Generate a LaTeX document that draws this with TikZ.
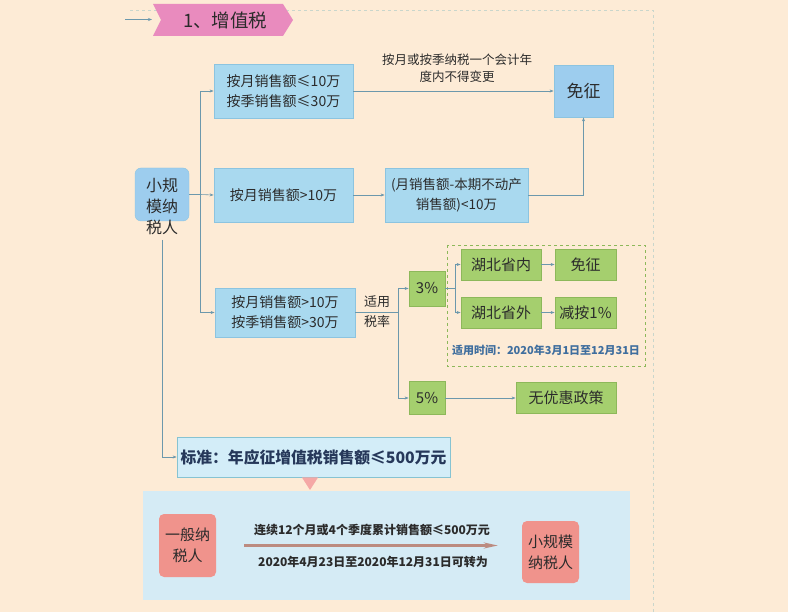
\documentclass[tikz,border=0pt]{standalone}
\usepackage{fontspec}
\setmainfont{Noto Sans CJK SC}
\usetikzlibrary{arrows.meta}
\definecolor{bg}{HTML}{FDEBD6}
\definecolor{bluefill}{HTML}{A9D9EF}
\definecolor{blueline}{HTML}{8CC4E0}
\definecolor{bluedark}{HTML}{9DCDEE}
\definecolor{greenfill}{HTML}{A5CF6E}
\definecolor{greenline}{HTML}{8DB85A}
\definecolor{connc}{HTML}{6C98AC}
\definecolor{txt}{HTML}{2B2B2B}
\definecolor{pinkban}{HTML}{E98BBE}
\definecolor{stdfill}{HTML}{D3EDF8}
\definecolor{stdline}{HTML}{86C3D2}
\definecolor{bigfill}{HTML}{D5EBF5}
\definecolor{pinkbox}{HTML}{F0938C}
\definecolor{brownarr}{HTML}{BC8B80}
\definecolor{pinktri}{HTML}{F5A8A6}
\definecolor{timec}{HTML}{3F6E9E}
\definecolor{navy}{HTML}{26385A}
\definecolor{dashc}{HTML}{C9D6CC}
\tikzset{
  bluebox/.style={draw=blueline, fill=bluefill, line width=0.8pt, text=txt, font=\fontsize{14}{20}\selectfont, align=center, inner sep=0pt},
  greenbox/.style={draw=greenline, fill=greenfill, line width=0.8pt, text=txt, font=\fontsize{15}{20}\selectfont, align=center, inner sep=0pt},
  pinkrbox/.style={fill=pinkbox, rounded corners=5pt, text=txt, font=\fontsize{15}{21}\selectfont, align=center, inner sep=0pt},
  conn/.style={draw=connc, line width=0.6pt},
  arr/.style={conn, -{Stealth[length=4pt,width=3pt]}},
  lbl/.style={text=txt, align=center, inner sep=0pt},
}
\begin{document}
\begin{tikzpicture}[x=1pt,y=-1pt]
\fill[bg] (0,0) rectangle (788,612);
\useasboundingbox (0,0) rectangle (788,612);
% frame dashes
\draw[dashc, dashed, line width=0.6pt] (130,10) -- (653,10) -- (653,612);
% banner
\fill[pinkban] (153,4) -- (283,4) -- (293,20) -- (283,36) -- (153,36) -- (161,20) -- cycle;
\node[lbl, font=\fontsize{18.5}{20}\selectfont, anchor=west] (title) at (183,20) {1、增值税};
\coordinate (tstart) at (125,19.5);
\draw[arr] (tstart) -- (152,19.5);

% main source
\node[draw=blueline, fill=bluedark, rounded corners=6pt, minimum width=54pt, minimum height=53pt, inner sep=0pt] (xg) at (162,194.5) {};
\node[lbl, font=\fontsize{16}{21}\selectfont] (xgt) at (162,207) {小规\\模纳\\税人};

% blue boxes
\node[bluebox, minimum width=139pt, minimum height=54pt] (A) at (283.5,91) {按月销售额≤10万\\按季销售额≤30万};
\node[bluebox, minimum width=139pt, minimum height=54pt] (B) at (283.5,195) {按月销售额>10万};
\node[bluebox, minimum width=140pt, minimum height=49pt] (C) at (285,312.5) {按月销售额>10万\\按季销售额>30万};
\node[bluebox, minimum width=143pt, minimum height=54pt, font=\fontsize{13.5}{20}\selectfont] (D) at (456.5,195) {(月销售额-本期不动产\\销售额)<10万};
\node[bluebox, fill=bluedark, minimum width=59pt, minimum height=52pt, font=\fontsize{17}{20}\selectfont] (mz1) at (583.5,91) {免征};
\node[lbl, font=\fontsize{12.5}{17}\selectfont] (note1) at (457,68.5) {按月或按季纳税一个会计年\\度内不得变更};

% green boxes
\node[greenbox, minimum width=36pt, minimum height=35pt] (p3) at (427,288.5) {3\%};
\node[greenbox, minimum width=36pt, minimum height=33pt] (p5) at (427,398) {5\%};
\node[greenbox, minimum width=80pt, minimum height=31pt] (hn) at (501,264.5) {湖北省内};
\node[greenbox, minimum width=61pt, minimum height=31pt] (mz2) at (585.5,264.5) {免征};
\node[greenbox, minimum width=80pt, minimum height=31pt] (hw) at (501,312.5) {湖北省外};
\node[greenbox, minimum width=61pt, minimum height=31pt] (jb) at (585.5,312.5) {减按1\%};
\node[greenbox, minimum width=100pt, minimum height=31pt] (wy) at (566,398) {无优惠政策};
\draw[greenline, dashed, line width=0.7pt] (447,245) rectangle (645,366);
\node[lbl, text=timec, font=\fontsize{11}{13}\selectfont\bfseries] (sj) at (546,350) {适用时间：2020年3月1日至12月31日};
\node[lbl, font=\fontsize{13}{20}\selectfont] (sl) at (377,312) {适用\\税率};

% standard box
\node[draw=stdline, fill=stdfill, line width=0.7pt, minimum width=273pt, minimum height=40pt, inner sep=0pt, text=navy, font=\fontsize{15.8}{20}\selectfont\bfseries] (bz) at (313.5,457) {标准：年应征增值税销售额≤500万元};
\fill[pinktri] (302,477.5) -- (318,477.5) -- (310,490) -- cycle;

% bottom panel
\fill[bigfill] (143,491) rectangle (630,600);
\node[pinkrbox, minimum width=57pt, minimum height=63pt] (yb) at (187.5,545.5) {一般纳\\税人};
\node[pinkrbox, minimum width=57pt, minimum height=62pt] (xs) at (550.5,552) {小规模\\纳税人};
\draw[brownarr, line width=2.2pt, shorten <=28pt, shorten >=24pt, -{Stealth[length=14pt,width=6pt]}] (yb.east) -- (yb.east -| xs.west);
\node[lbl, text=txt, font=\fontsize{12}{15}\selectfont\bfseries] (c1) at (372,530) {连续12个月或4个季度累计销售额≤500万元};
\node[lbl, text=txt, font=\fontsize{12}{15}\selectfont\bfseries] (c2) at (373,562) {2020年4月23日至2020年12月31日可转为};

% connectors
\coordinate (t1) at (200,194.5);
\draw[conn] (xg.east) -- (t1);
\draw[arr] (t1) |- (A.west);
\draw[arr] (t1) -- (B.west);
\draw[arr] (t1) |- (C.west);
\draw[arr] (A.east) -- (mz1.west);
\draw[arr] (B.east) -- (D.west);
\draw[arr] (D.east) -| (mz1.south);
\coordinate (t2) at (398,312.5);
\draw[conn] (C.east) -- (t2);
\draw[arr] (t2) |- (p3.west);
\draw[arr] (t2) |- (p5.west);
\coordinate (t3) at (455,288.5);
\draw[conn] (p3.east) -- (t3);
\draw[arr] (t3) |- (hn.west);
\draw[arr] (t3) |- (hw.west);
\draw[arr] (hn.east) -- (mz2.west);
\draw[arr] (hw.east) -- (jb.west);
\draw[arr] (p5.east) -- (wy.west);
\coordinate (t4) at (162,240);
\draw[arr] (t4) |- (bz.west);
\end{tikzpicture}
\end{document}
